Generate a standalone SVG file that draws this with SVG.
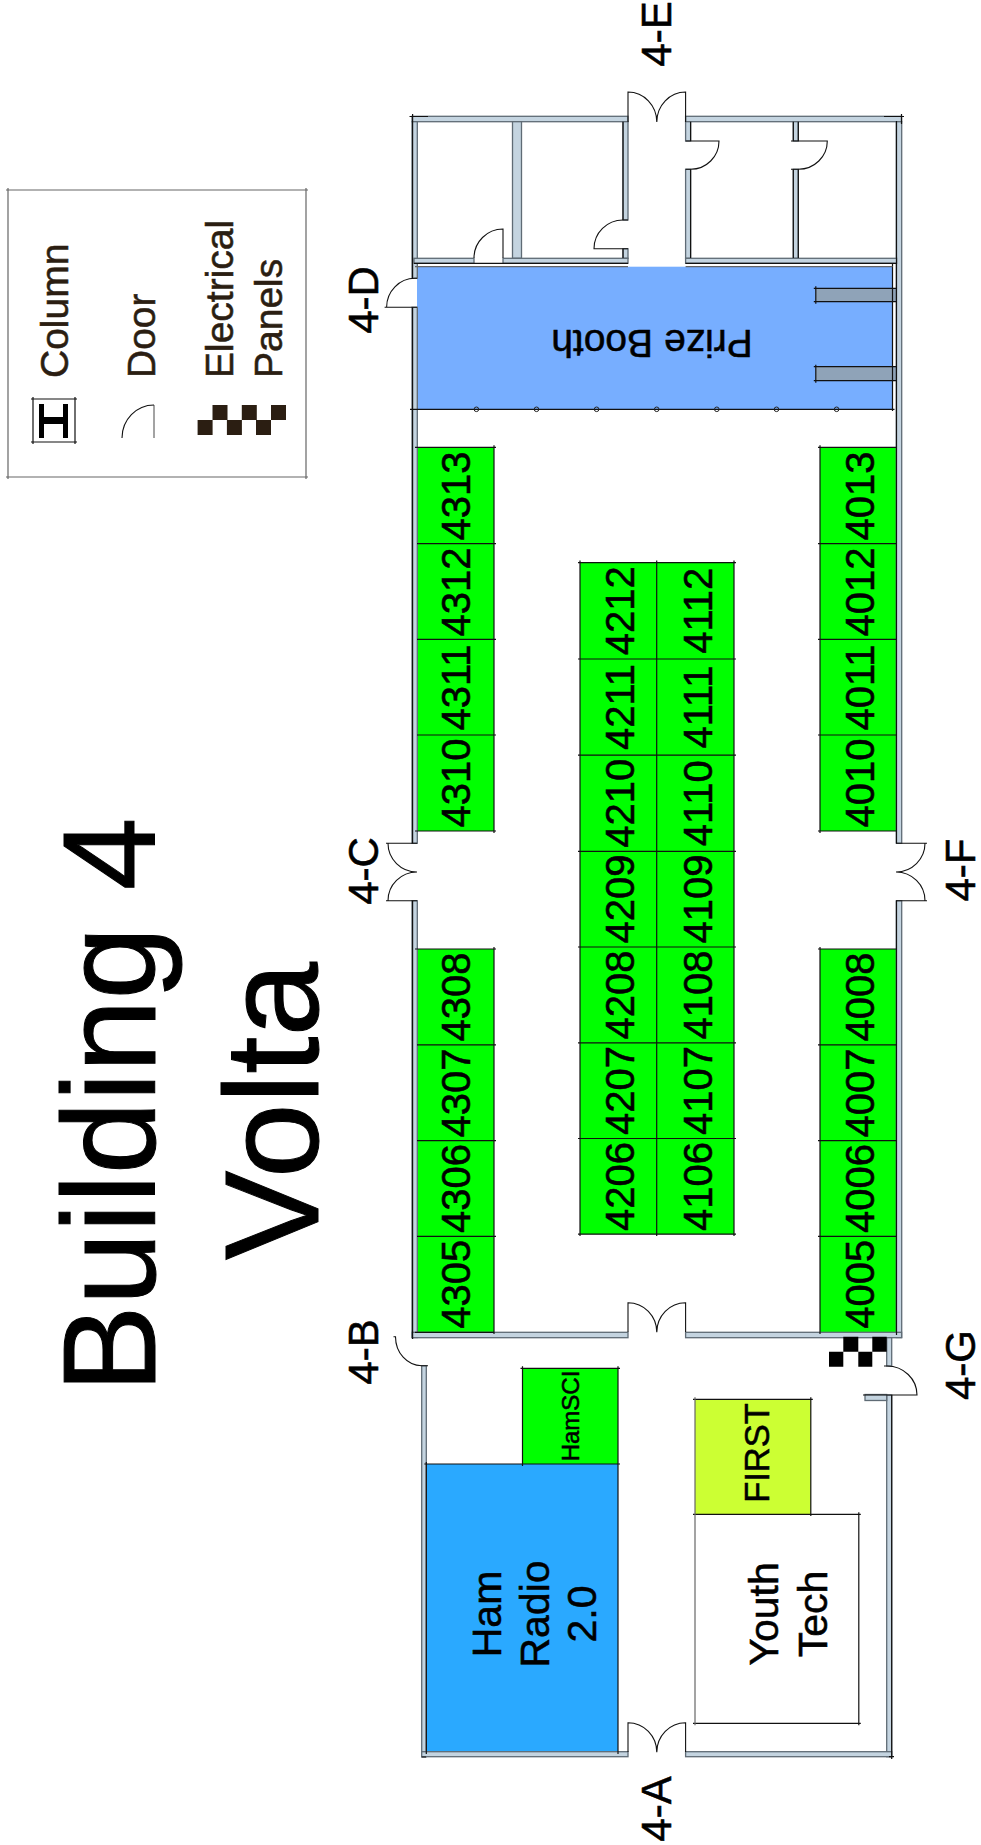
<svg xmlns="http://www.w3.org/2000/svg" width="981" height="1845" viewBox="0 0 981 1845">
<style>
text{font-family:"Liberation Sans",Arial,sans-serif;fill:#000;stroke:#000;stroke-width:.55}
.b{font-size:40px;text-anchor:middle}
.l{font-size:42px;text-anchor:middle}
.k{font-size:39px;fill:#2b1e12;stroke:#2b1e12}
.t{font-size:131px;text-anchor:middle;stroke-width:1}
.w{fill:#c4d4e0;stroke:#5f6b75;stroke-width:1.3}
.ln{fill:none;stroke:#111;stroke-width:1.2}
.g{fill:none;stroke:#666;stroke-width:1.2}
.dr{fill:none;stroke:#111;stroke-width:1.1}
</style>
<rect width="981" height="1845" fill="#fff"/>
<g id="title">
<text class="t" transform="translate(155 1105) rotate(-90)">Building 4</text>
<text class="t" style="font-size:134px" transform="translate(318 1111) rotate(-90)">Volta</text>
</g>
<g id="legend">
<path class="g" d="M6 190H308M306 188V479M308 477H6M8 479V188"/>
<text class="k" transform="translate(68 378) rotate(-90)">Column</text>
<text class="k" transform="translate(155 378) rotate(-90)">Door</text>
<text class="k" transform="translate(233 378) rotate(-90)">Electrical</text>
<text class="k" transform="translate(282 378) rotate(-90)">Panels</text>
<path class="ln" d="M31 399H77M75 397V444M77 442H31M33 444V397"/>
<path d="M39 404H44V417H63V404H68V438H63V424H44V438H39Z" fill="#000"/>
<path class="g" d="M154 405V438"/><path class="dr" d="M154 405A32 33 0 0 0 122 438"/>
<path fill="#2b1e12" d="M197.600 420h15v15h-15zM226.900 420h15v15h-15zM256 420h15v15h-15zM212.500 405h15v15h-15zM241.800 405h15v15h-15zM271 405h15v15h-15z"/>
</g>
<g id="areas">
<rect x="417" y="266.700" width="475.500" height="142.600" fill="#77aeff"/>
<rect x="815.800" y="288.300" width="81" height="13.400" fill="#8fa3b8"/>
<rect x="815.800" y="366.700" width="81" height="14" fill="#8fa3b8"/>
<rect x="426.300" y="1464" width="191.700" height="288" fill="#2aa9ff"/>
<rect x="522.500" y="1368.300" width="95.500" height="95.700" fill="#0f0"/>
<rect x="695" y="1399.300" width="115.800" height="115" fill="#cf3"/>
<rect x="417.300" y="447.300" width="76.700" height="383.700" fill="#0f0"/>
<rect x="417.300" y="949" width="76.700" height="383.300" fill="#0f0"/>
<rect x="820" y="447.300" width="76.500" height="383.700" fill="#0f0"/>
<rect x="820" y="949" width="76.500" height="383.300" fill="#0f0"/>
<rect x="580" y="562.600" width="154" height="671.600" fill="#0f0"/>
</g>
<g id="walls">
<rect class="w" x="412" y="116.300" width="216" height="5.400"/>
<rect class="w" x="685.600" y="116.300" width="216" height="5.400"/>
<rect class="w" x="412" y="121.700" width="5.300" height="156.600"/>
<rect class="w" x="412" y="307.300" width="5.300" height="536"/>
<rect class="w" x="412" y="900.700" width="5.300" height="436.800"/>
<rect class="w" x="896.300" y="121.700" width="5.400" height="721.600"/>
<rect class="w" x="896.300" y="900.700" width="5.400" height="436.800"/>
<rect class="w" x="412" y="1332.300" width="216" height="5.400"/>
<rect class="w" x="685.600" y="1332.300" width="216" height="5.400"/>
<rect class="w" x="421.700" y="1365.700" width="4.600" height="391"/>
<rect class="w" x="886.700" y="1337.700" width="5" height="28.300"/>
<rect class="w" x="886.700" y="1395" width="5" height="361.700"/>
<rect class="w" x="865" y="1394.500" width="21.700" height="6"/>
<rect class="w" x="421.700" y="1751.700" width="206.300" height="5"/>
<rect class="w" x="685.600" y="1751.700" width="206.100" height="5"/>
<rect class="w" x="512.500" y="121.700" width="9" height="136.600"/>
<rect class="w" x="623" y="121.700" width="5" height="98.300"/>
<rect class="w" x="623" y="248.700" width="5" height="9.600"/>
<rect class="w" x="685.600" y="121.700" width="5" height="19.300"/>
<rect class="w" x="685.600" y="169.300" width="5" height="89"/>
<rect class="w" x="793.300" y="121.700" width="5" height="19.300"/>
<rect class="w" x="793.300" y="169.300" width="5" height="89"/>
<rect class="w" x="414" y="258.300" width="60" height="5"/>
<rect class="w" x="503" y="258.300" width="125" height="5"/>
<rect class="w" x="685.600" y="258.300" width="211" height="5"/>
<path class="ln" d="M409.500 116.500H428M884 116.500H904M412.600 114V278.300M412.600 307.300V843.300M412.600 900.700V1339M901.500 114V124M896.500 121V843.300M896.500 900.700V1335M623 121.700V220M623 248.700V258M690.600 121.700V141M690.600 169.300V258M793.300 121.700V141M798.300 121.700V141M793.300 169.300V258M798.300 169.300V258M414 263.300H628M685.600 263.300H897M891.700 1395V1759M421.700 1757H426M889 1756.700H894"/>
</g>
<g id="lines">
<path class="ln" d="M410 409.300H894.500M892.500 264V411"/>
<path class="g" d="M415 266.700H628M685.600 266.700H892.500"/>
<path class="ln" d="M813.800 288.300H897M815.800 286.300V303.700M813.800 301.700H897M813.800 366.700H897M815.800 364.700V382.700M813.800 380.700H897"/>
<g fill="none" stroke="#222" stroke-width="1">
<circle cx="476.400" cy="409.300" r="2.300"/><circle cx="536.500" cy="409.300" r="2.300"/><circle cx="596.600" cy="409.300" r="2.300"/><circle cx="656.700" cy="409.300" r="2.300"/><circle cx="716.800" cy="409.300" r="2.300"/><circle cx="776.500" cy="409.300" r="2.300"/><circle cx="836.600" cy="409.300" r="2.300"/>
</g>
<path class="ln" d="M415 447.300H496M494 445.300V833M417 543.600H496M417 639.300H496M417 735H496M415 831H496M415 949H496M494 947V1334M417 1044.800H496M417 1140.600H496M417 1236.400H496M415 1332.300H494"/>
<path class="ln" d="M818 447.300H897M820 445.300V833M818 543.600H897M818 639.300H897M818 735H897M818 831H897M818 949H897M820 947V1334M818 1044.800H897M818 1140.600H897M818 1236.400H897"/>
<path class="ln" d="M578 562.600H736M580 560.600V1236M656.700 560.600V1236M734 560.600V1236M578 659H736M578 755.200H736M578 851.300H736M578 947H736M578 1042.800H736M578 1138.500H736M578 1234.200H736"/>
<path class="ln" d="M520.500 1368.300H620M522.500 1366.300V1466M618 1366.300V1754M424.300 1464H620M426.300 1462V1754"/>
<path class="ln" d="M693 1399.300H812.800M810.800 1397.300V1516M693 1514.300H860.800M858.800 1512.300V1725.300M860.800 1723.300H693"/><path class="g" d="M695 1397.300V1725.300"/>
</g>
<g id="panels"><path fill="#000" d="M843.300 1336.700h15v15h-15zM872.300 1336.700h14.400v15h-14.400zM829 1351.700h14.300v15h-14.300zM858.300 1351.700h14v15h-14z"/></g>
<g id="doors">
<path class="dr" d="M628 122V92A28.800 30 0 0 1 656.800 122A28.800 30 0 0 1 685.600 92V122"/>
<path class="dr" d="M628 1332V1302.700A28.800 29.600 0 0 1 656.800 1332.300A28.800 29.600 0 0 1 685.600 1302.700V1332"/>
<path class="dr" d="M628 1752V1722.700A28.800 29.600 0 0 1 656.800 1752.300A28.800 29.600 0 0 1 685.600 1722.700V1752"/>
<path class="dr" d="M417 843.300H386M388 843.300A29 28.700 0 0 0 417 872A29 28.700 0 0 0 388 900.700M386 900.700H417"/>
<path class="dr" d="M896 843.300H927M925 843.300A29 28.700 0 0 1 896 872A29 28.700 0 0 1 925 900.700M927 900.700H896"/>
<path class="dr" d="M685.600 141H719A28.400 28.300 0 0 1 690.600 169.300H685.600"/>
<path class="dr" d="M791 141H827.300A29 28.300 0 0 1 798.300 169.300H791"/>
<path class="dr" d="M628 220H623A29 28.700 0 0 0 594 248.700H628"/>
<path class="dr" d="M503 258V229A29 29 0 0 0 474 258"/>
<path class="dr" d="M417 278.300H415A28.400 29 0 0 0 386.600 307.300H417M384.600 307.300H386.600"/>
<path class="dr" d="M393.500 1336.700H395.500A26.200 29 0 0 0 421.700 1365.700H428"/>
<path class="dr" d="M884 1366H887A30 29 0 0 1 917 1395H863"/>
</g>
<g id="labels">
<text class="l" transform="translate(671 1809) rotate(-90)">4-A</text>
<text class="l" transform="translate(671 34) rotate(-90)">4-E</text>
<text class="l" transform="translate(378 300) rotate(-90)">4-D</text>
<text class="l" transform="translate(378 871) rotate(-90)">4-C</text>
<text class="l" transform="translate(378 1352) rotate(-90)">4-B</text>
<text class="l" transform="translate(975 870) rotate(-90)">4-F</text>
<text class="l" transform="translate(975 1365) rotate(-90)">4-G</text>
<text transform="translate(652 330) rotate(180)" style="font-size:39px;text-anchor:middle">Prize Booth</text>
<text class="l" style="font-size:41px" transform="translate(501 1614) rotate(-90)">Ham</text>
<text class="l" style="font-size:41px" transform="translate(548.600 1614) rotate(-90)">Radio</text>
<text class="l" style="font-size:41px" transform="translate(596 1614) rotate(-90)">2.0</text>
<text class="l" style="font-size:41px" transform="translate(778 1614) rotate(-90)">Youth</text>
<text class="l" style="font-size:41px" transform="translate(826.600 1614) rotate(-90)">Tech</text>
<text class="l" style="font-size:24px" transform="translate(579 1416) rotate(-90)">HamSCI</text>
<text class="l" style="font-size:34.500px" transform="translate(768.600 1453) rotate(-90)">FIRST</text>
</g>
<g id="booths">
<text class="b" transform="translate(470 496) rotate(-90)">4313</text>
<text class="b" transform="translate(470 592) rotate(-90)">4312</text>
<text class="b" transform="translate(470 687.500) rotate(-90)">4311</text>
<text class="b" transform="translate(470 783) rotate(-90)">4310</text>
<text class="b" transform="translate(470 997) rotate(-90)">4308</text>
<text class="b" transform="translate(470 1093) rotate(-90)">4307</text>
<text class="b" transform="translate(470 1188.500) rotate(-90)">4306</text>
<text class="b" transform="translate(470 1284.300) rotate(-90)">4305</text>
<text class="b" transform="translate(873.500 496) rotate(-90)">4013</text>
<text class="b" transform="translate(873.500 592) rotate(-90)">4012</text>
<text class="b" transform="translate(873.500 687.500) rotate(-90)">4011</text>
<text class="b" transform="translate(873.500 783) rotate(-90)">4010</text>
<text class="b" transform="translate(873.500 997) rotate(-90)">4008</text>
<text class="b" transform="translate(873.500 1093) rotate(-90)">4007</text>
<text class="b" transform="translate(873.500 1188.500) rotate(-90)">4006</text>
<text class="b" transform="translate(873.500 1284.300) rotate(-90)">4005</text>
<text class="b" transform="translate(634 610.800) rotate(-90)">4212</text>
<text class="b" transform="translate(634 707) rotate(-90)">4211</text>
<text class="b" transform="translate(634 803.200) rotate(-90)">4210</text>
<text class="b" transform="translate(634 899.100) rotate(-90)">4209</text>
<text class="b" transform="translate(634 994.900) rotate(-90)">4208</text>
<text class="b" transform="translate(634 1090.600) rotate(-90)">4207</text>
<text class="b" transform="translate(634 1186.400) rotate(-90)">4206</text>
<text class="b" transform="translate(711.500 610.800) rotate(-90)">4112</text>
<text class="b" transform="translate(711.500 707) rotate(-90)">4111</text>
<text class="b" transform="translate(711.500 803.200) rotate(-90)">4110</text>
<text class="b" transform="translate(711.500 899.100) rotate(-90)">4109</text>
<text class="b" transform="translate(711.500 994.900) rotate(-90)">4108</text>
<text class="b" transform="translate(711.500 1090.600) rotate(-90)">4107</text>
<text class="b" transform="translate(711.500 1186.400) rotate(-90)">4106</text>
</g>
</svg>
